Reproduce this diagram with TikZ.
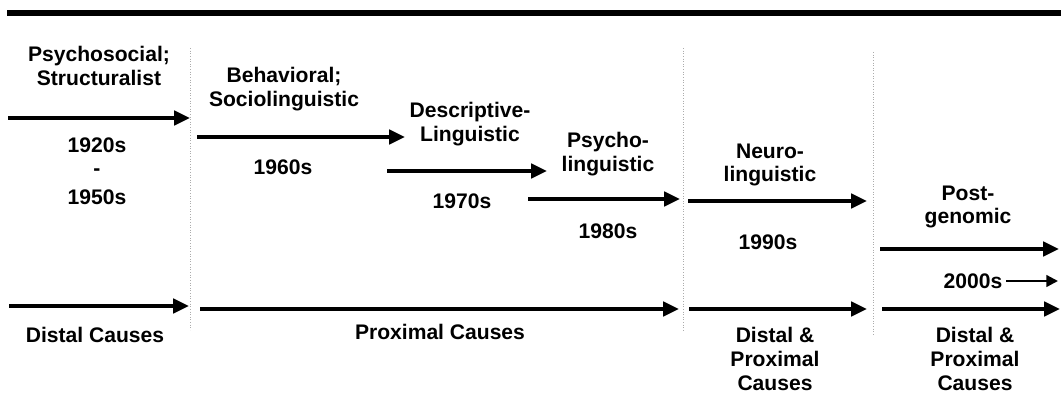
\documentclass[tikz,border=0pt]{standalone}
\usepackage{fontspec}
\setmainfont{Liberation Sans}
\usetikzlibrary{arrows.meta}
\tikzset{
  every picture/.style={
    line join=miter,
    line cap=butt,
  },
  era/.style={font=\fontsize{12}{13.6}\selectfont\bfseries, align=center, inner sep=0pt},
  rule/.style={line width=2.9pt},
  sep/.style={densely dotted, gray!65, line width=0.5pt},
  bar/.style={-{Triangle[length=9pt,width=8pt]}, line width=2.8pt},
  smallbar/.style={-{Triangle[length=6.6pt,width=6.6pt]}, line width=1.3pt},
}

\begin{document}
\begin{tikzpicture}[x=0.02cm,y=-0.02cm]
\useasboundingbox (0,0) rectangle (1061,395);
\draw[rule] (7,13) -- (1061,13);
\draw[sep] (190,48) -- (190,330);
\draw[sep] (683,48) -- (683,332);
\draw[sep] (873,52) -- (873,335);

\node[era] (psy) at (99,66) {Psychosocial;\\Structuralist};
\node[era] (y1920) at (97,145) {1920s};
\node[era] (ydash) at (97,172) {-};
\node[era] (y1950) at (97,197) {1950s};
\node[era] (beh) at (284,89) {Behavioral;\\Sociolinguistic};
\node[era] (y1960) at (283,167) {1960s};
\node[era] (desc) at (470,124) {Descriptive-\\Linguistic};
\node[era] (y1970) at (462,201) {1970s};
\node[era] (psych) at (608,154) {Psycho-\\linguistic};
\node[era] (y1980) at (608,231) {1980s};
\node[era] (neuro) at (770,165) {Neuro-\\linguistic};
\node[era] (y1990) at (768,242) {1990s};
\node[era] (post) at (968,207) {Post-\\genomic};
\node[era] (y2000) at (973,281) {2000s};

\node[era] (distal) at (95,335) {Distal Causes};
\node[era] (proximal) at (440,332) {Proximal Causes};
\node[era] (both1) at (775,359) {Distal \&\\Proximal\\Causes};
\node[era] (both2) at (975,359) {Distal \&\\Proximal\\Causes};

\coordinate (psyL) at (8,118);    \coordinate (psyR) at (190,118);
\coordinate (behL) at (197,137);  \coordinate (behR) at (405,137);
\coordinate (descL) at (387,171); \coordinate (descR) at (547,171);
\coordinate (psychL) at (528,199); \coordinate (psychR) at (680,199);
\coordinate (neuroL) at (688,201); \coordinate (neuroR) at (867,201);
\coordinate (postL) at (880,249); \coordinate (postR) at (1059,249);
\coordinate (y2000R) at (1058,281);
\draw[bar] (psyL) -- (psyR);
\draw[bar] (behL) -- (behR);
\draw[bar] (descL) -- (descR);
\draw[bar] (psychL) -- (psychR);
\draw[bar] (neuroL) -- (neuroR);
\draw[bar] (postL) -- (postR);
\draw[smallbar] ([xshift=2pt]y2000.east) -- (y2000R);

\coordinate (distalL) at (9,306);    \coordinate (distalR) at (189,306);
\coordinate (proxL) at (200,309);    \coordinate (proxR) at (679,309);
\coordinate (both1L) at (689,309);   \coordinate (both1R) at (867,309);
\coordinate (both2L) at (882,309);   \coordinate (both2R) at (1060,309);
\draw[bar] (distalL) -- (distalR);
\draw[bar] (proxL) -- (proxR);
\draw[bar] (both1L) -- (both1R);
\draw[bar] (both2L) -- (both2R);
\end{tikzpicture}
\end{document}
